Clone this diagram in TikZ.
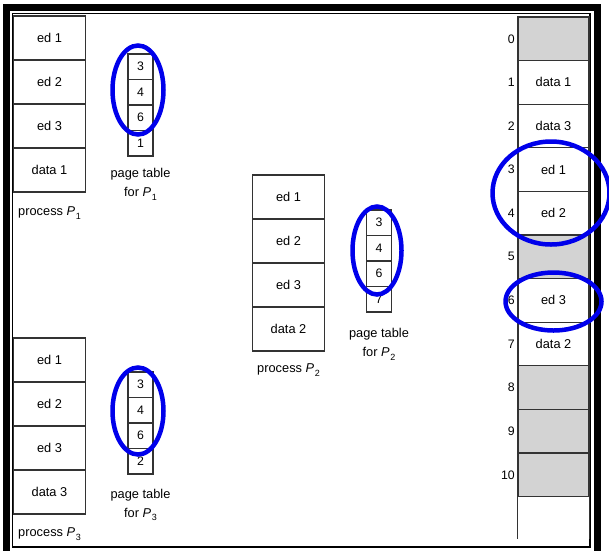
\documentclass[tikz,border=0pt]{standalone}
\usepackage{fontspec}
\setmainfont{Liberation Sans}
\usetikzlibrary{positioning}
\definecolor{freegray}{RGB}{211,211,211}
\definecolor{ringblue}{RGB}{0,0,235}
\newcommand{\proc}[1]{\textit{P}\kern0.6pt\raisebox{-0.55ex}{\fontsize{9}{9}\selectfont #1}}

\begin{document}
\begin{tikzpicture}[x=1pt, y=-1pt,
  cell/.style={draw=black!80, line width=1.1pt, minimum width=72pt, minimum height=44pt,
    inner sep=0pt, font=\fontsize{12.8}{14}\selectfont},
  frame/.style={cell, minimum width=71pt, minimum height=43.6pt},
  pte/.style={draw=black!80, line width=1.1pt, minimum width=25pt, minimum height=25.5pt,
    inner sep=0pt, font=\fontsize{12.3}{14}\selectfont},
  caption/.style={font=\fontsize{12.8}{19}\selectfont, align=center, inner sep=0pt},
  ring/.style={draw=ringblue, line width=4.5pt}]
  \useasboundingbox (0,0) rectangle (609,550);
  % outer frame
  \draw[line width=7pt] (6,551) -- (6,7) -- (597,7) -- (597,551);
  \draw[line width=1.5pt] (12.5,13.5) rectangle (590,547);

  % process P1
  \foreach \i/\t in {0/ed 1,1/ed 2,2/ed 3,3/data 1}
    \node[cell] (pa\i) at (49.5,38+44*\i) {\t};
  \node[caption] (pacap) at (49.5,213) {process \proc{1}};
  % process P2
  \foreach \i/\t in {0/ed 1,1/ed 2,2/ed 3,3/data 2}
    \node[cell] (pb\i) at (288.5,197+44*\i) {\t};
  \node[caption] (pbcap) at (288.5,370) {process \proc{2}};
  % process P3
  \foreach \i/\t in {0/ed 1,1/ed 2,2/ed 3,3/data 3}
    \node[cell] (pc\i) at (49.5,360+44*\i) {\t};
  \node[caption] (pccap) at (49.5,534) {process \proc{3}};

  % page tables
  \foreach \i/\v in {0/3,1/4,2/6,3/1}
    \node[pte] (ta\i) at (140.5,66.75+25.5*\i) {\v};
  \node[caption] (tacap) at (140.5,184.5) {page table\\for \proc{1}};
  \foreach \i/\v in {0/3,1/4,2/6,3/7}
    \node[pte] (tb\i) at (379,222.75+25.5*\i) {\v};
  \node[caption] (tbcap) at (379,344) {page table\\for \proc{2}};
  \foreach \i/\v in {0/3,1/4,2/6,3/2}
    \node[pte] (tc\i) at (140.5,384.75+25.5*\i) {\v};
  \node[caption] (tccap) at (140.5,505) {page table\\for \proc{3}};

  % physical memory
  \foreach \i/\t/\f in {0//freegray,1/data 1/white,2/data 3/white,3/ed 1/white,
      4/ed 2/white,5//freegray,6/ed 3/white,7/data 2/white,8//freegray,
      9//freegray,10//freegray} {
    \node[frame, fill=\f] (m\i) at (553.5,38.8+43.6*\i) {\t};
    \node[anchor=east, inner sep=0pt, font=\fontsize{12.3}{14}\selectfont] (n\i)
      at (515,38.8+43.6*\i) {\i};
  }
  \draw[draw=black!80, line width=1.1pt] (m10.south west) -- ++(0,42);
  \draw[draw=black!80, line width=1.1pt] (m10.south east) -- ++(0,42);

  % shared pages
  \draw[ring] (138,90) ellipse [x radius=25.5, y radius=44.5];
  \draw[ring] (377,250.5) ellipse [x radius=24.5, y radius=44];
  \draw[ring] (138,411) ellipse [x radius=25.5, y radius=43.5];
  \draw[ring] (551,193) ellipse [x radius=58.5, y radius=51.5];
  \draw[ring] (553.5,301.5) ellipse [x radius=48, y radius=29];
\end{tikzpicture}
\end{document}
